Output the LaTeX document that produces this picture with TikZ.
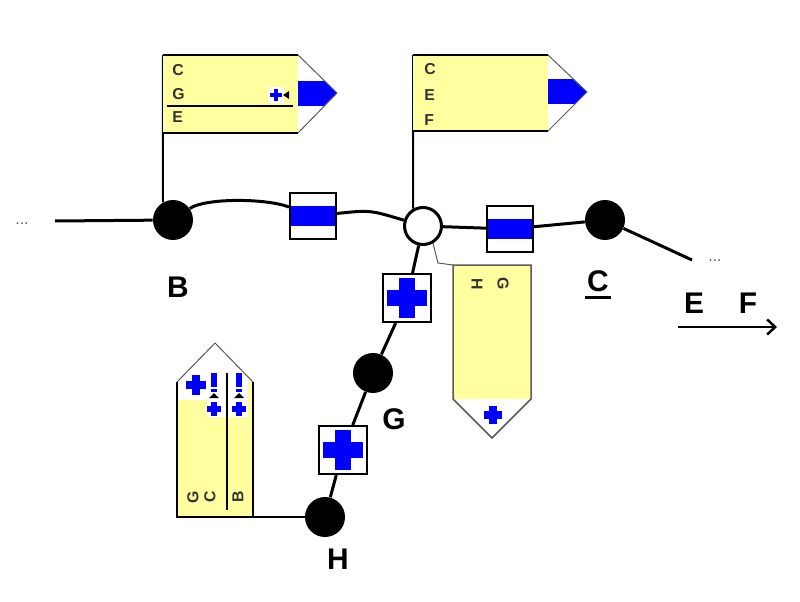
\documentclass[tikz,border=0pt]{standalone}
\usepackage{fontspec}
\setmainfont{Liberation Sans}
\usetikzlibrary{positioning,arrows.meta,calc,backgrounds}
\definecolor{flagYellow}{RGB}{255,255,160}
\definecolor{markBlue}{RGB}{0,0,255}
\definecolor{edgeGray}{RGB}{90,90,90}
\newcommand{\bluecross}[2]{%
  \fill[markBlue] ($(#1)+(-#2,-0.4*#2)$) rectangle ($(#1)+(#2,0.4*#2)$);
  \fill[markBlue] ($(#1)+(-0.4*#2,-#2)$) rectangle ($(#1)+(0.4*#2,#2)$);}
\newcommand{\bangmark}[1]{%
  \fill[markBlue] ($(#1)+(-3,-25)$) rectangle ($(#1)+(3,-11)$);
  \fill[markBlue] ($(#1)+(-3,-9)$) rectangle ($(#1)+(3,-6)$);
  \fill ($(#1)+(0,-5)$) -- ($(#1)+(5,0)$) -- ($(#1)+(-5,0)$) -- cycle;
  \bluecross{$(#1)+(0,11)$}{7}}

\begin{document}
\begin{tikzpicture}[x=0.02cm,y=-0.02cm,
      dot/.style={circle,fill=black,inner sep=0pt,minimum size=8mm},
      hub/.style={circle,draw=black,fill=white,line width=0.6mm,inner sep=0pt,minimum size=7.4mm},
      band/.style={draw=black,fill=white,line width=0.4mm,minimum size=9.2mm,inner sep=0pt,
        path picture={\fill[markBlue] ([yshift=-2mm]path picture bounding box.east) rectangle ([yshift=2mm]path picture bounding box.west);}},
      cross/.style={draw=black,fill=white,line width=0.4mm,minimum size=9.6mm,inner sep=0pt,
        path picture={\fill[markBlue] ([shift={(-4mm,-1.6mm)}]path picture bounding box.center) rectangle ([shift={(4mm,1.6mm)}]path picture bounding box.center);
                      \fill[markBlue] ([shift={(-1.6mm,-4mm)}]path picture bounding box.center) rectangle ([shift={(1.6mm,4mm)}]path picture bounding box.center);}},
      lbl/.style={font=\fontsize{17}{20}\selectfont\bfseries,inner sep=1pt},
      tag/.style={font=\fontsize{9}{10}\selectfont\bfseries,text=black!80,inner sep=0pt},
      wire/.style={line width=0.6mm},
      pole/.style={line width=0.4mm},
      flagedge/.style={draw=edgeGray,line width=0.2mm}]
    \useasboundingbox (0,0) rectangle (800,601);
    % the chain
    \node[dot] (B) at (173,220) {};
    \node[band] (bx1) at (313,216) {};
    \node[hub] (J) at (423,226) {};
    \node[band] (bx2) at (510,229) {};
    \node[dot] (C) at (605,220) {};
    \node[cross] (bx3) at (407,298) {};
    \node[dot] (G) at (373,373) {};
    \node[cross] (bx4) at (343,450) {};
    \node[dot] (H) at (325,517) {};
    \coordinate (lend) at (55,221);
    \coordinate (rend) at (692,260);
    \node[font=\small,text=edgeGray] (dotsL) at (22,224) {...};
    \node[font=\small,text=edgeGray] (dotsR) at (715,261) {...};
    % labels
    \node[lbl] (labB) at (178,287) {B};
    \node[lbl] (labC) at (598,281) {C};
    \draw[line width=0.5mm] ([yshift=-1.2mm]labC.base west) -- ([yshift=-1.2mm]labC.base east);
    \node[lbl] (labG) at (394,419) {G};
    \node[lbl] (labH) at (338,559) {H};
    \node[lbl] (labE) at (694,303) {E};
    \node[lbl] (labF) at (748,303) {F};
    \coordinate (dirS) at (678,327);
    \coordinate (dirE) at (777,327);
    \draw[line width=0.5mm,-{Straight Barb[length=1.6mm,width=3mm]}] (dirS) -- (dirE);

    % flag on B
    \fill[flagYellow] (163,55) rectangle (298,133);
    \begin{scope}
      \clip (298,55) -- (337,93) -- (298,133) -- cycle;
      \fill[markBlue] (298,81) rectangle (340,106);
    \end{scope}
    \draw[flagedge] (298,55) -- (337,93) -- (298,133);
    \draw[pole] (298,55) -- (163,55) (163,133) -- (298,133);
    \node[tag,anchor=west] (f1a) at (172,70) {C};
    \node[tag,anchor=west] (f1b) at (172,94) {G};
    \node[tag,anchor=west] (f1c) at (172,117) {E};
    \draw[line width=0.3mm] (167,106) -- (293,106);
    \fill[white] (268,87) rectangle (284,103);
    \bluecross{276,95}{6}
    \fill (283,95) -- (289,91) -- (289,99) -- cycle;

    % flag on J
    \fill[flagYellow] (413,55) rectangle (548,131);
    \begin{scope}
      \clip (548,55) -- (587,92) -- (548,131) -- cycle;
      \fill[markBlue] (548,79) rectangle (590,104);
    \end{scope}
    \draw[flagedge] (548,55) -- (587,92) -- (548,131);
    \draw[pole] (548,55) -- (413,55) (413,131) -- (548,131);
    \node[tag,anchor=west] (f2a) at (424,69) {C};
    \node[tag,anchor=west] (f2b) at (424,95) {E};
    \node[tag,anchor=west] (f2c) at (424,120) {F};

    % flag hanging from J
    \coordinate (f3k) at (438,263);
    \fill[flagYellow] (453,265) rectangle (531,399);
    \draw[flagedge,line width=0.3mm] (453,399) -- (453,265) -- (531,265) -- (531,399) -- (492,438) -- cycle;
    \node[tag,rotate=-90] (f3a) at (477,284) {H};
    \node[tag,rotate=-90] (f3b) at (503,284) {G};
    \bluecross{493,415}{9}

    % flag on H
    \fill[flagYellow] (177,382) rectangle (253,517);
    \fill[white] (177,382) rectangle (207,400);
    \fill[white] (207,382) rectangle (248,417);
    \draw[flagedge] (177,382) -- (215,343) -- (253,382);
    \draw[pole] (177,382) -- (177,517) -- (253,517) -- (253,382);
    \draw[line width=0.3mm] (227,373) -- (227,510);
    \bluecross{196,385}{10}
    \bangmark{214,398}
    \bangmark{239,398}
    \node[tag,rotate=90] (f4a) at (193,497) {G};
    \node[tag,rotate=90] (f4b) at (210,497) {C};
    \node[tag,rotate=90] (f4c) at (238,497) {B};

    \begin{pgfonlayer}{background}
      \draw[wire] (lend) -- (B);
      \draw[wire] (B) .. controls (205,198) and (265,198) .. (bx1);
      \draw[wire] (bx1) .. controls (370,210) .. (J);
      \draw[wire] (J) -- (bx2) -- (C);
      \draw[wire] (C) .. controls (640,236) .. (rend);
      \draw[wire] (J) -- (bx3) -- (G) -- (bx4) -- (H);
      \draw[pole] (163,55) -- (B.120);
      \draw[pole] (413,55) -- (J.120);
      \draw[flagedge] (J.-60) -- (f3k) -- (453,265);
      \draw[pole] (253,517) -- (H);
    \end{pgfonlayer}
  \end{tikzpicture}
\end{document}
